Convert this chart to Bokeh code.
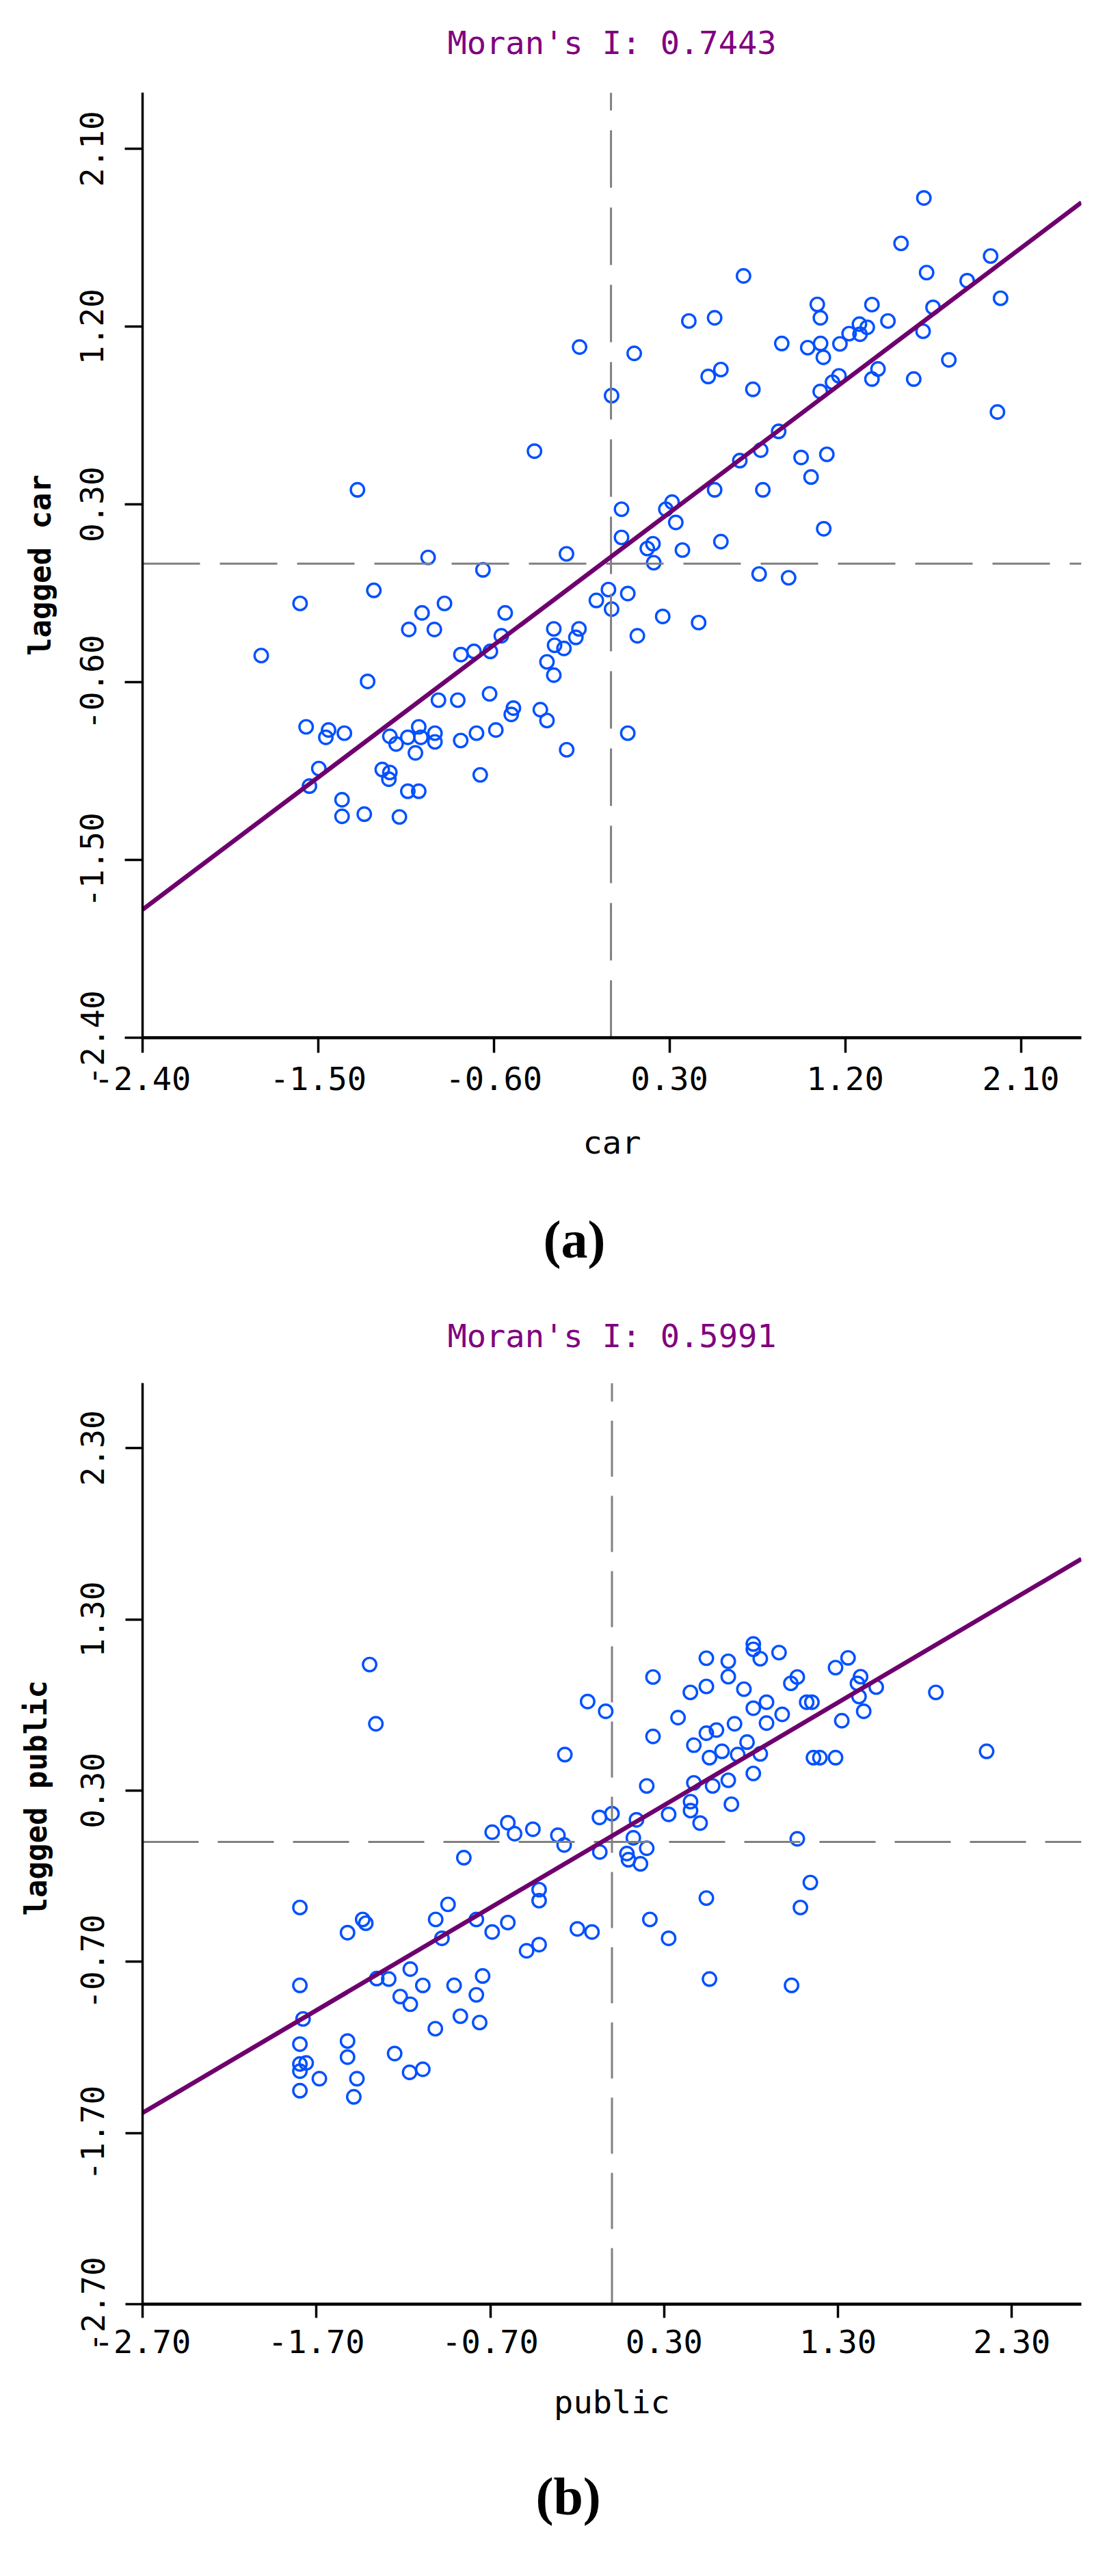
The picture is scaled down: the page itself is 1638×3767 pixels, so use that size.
from bokeh.plotting import figure
from bokeh.models import (FixedTicker, Range1d, Title, ColumnDataSource,
                          NumeralTickFormatter, LinearAxis)
from bokeh.layouts import column
from bokeh.embed import file_html
from bokeh.resources import INLINE

MONO = "DejaVu Sans Mono"

# ---------------- (a) car ----------------
car = [
    -0.161, -0.392, -1.299,
    1.603, 1.486, 1.945, 1.617, 1.825, 1.996, 0.679, 1.057, 1.073, 1.337, 1.419, 1.650,
    0.399, 0.531, 0.119, 1.273, 1.313, 1.220, 1.276, 1.599, 0.875, 1.008, 1.074, 1.173,
    1.088, 1.731, 0.563, 0.498, 1.368, 1.337, 1.168, 1.135, 1.551, 0.727, 1.072, 0.003,
    1.980, 0.859, 0.767, 0.660, 0.974, 1.106, 1.025, 0.531, 0.778, 0.313, 0.281, 0.054,
    0.332, 1.090, 0.054, 0.563, 0.215, 0.366, 0.186,
    0.219, 0.759, 0.910, -0.013, 0.086, -0.075, 0.003, 0.265, 0.449, 0.135, 0.086,
    -0.937, -0.656, -0.228, -1.215, -1.593, -0.853, -0.968, -0.542, -1.036, -0.905,
    -0.293, -0.289, -0.241, -0.164, -0.180, -0.562, -0.618, -0.769, -0.702, -1.792,
    -0.328, -0.293, -1.247, -0.884, -0.785, -0.622, -0.500, -0.511, -0.362, -0.328,
    -1.562, -1.447, -1.461, -1.366, -1.133, -1.101, -1.041, -0.985, -0.974, -0.902,
    -0.902, -1.002, -0.770, -0.689, -0.590, -0.227, -1.497, -1.545, -1.172, -1.133,
    -1.138, -0.670, -1.041, -0.985, -1.378, -1.378, -1.264, -1.084,
]
lagged_car = [
    1.097, 0.570, 0.374,
    1.852, 1.622, 1.558, 1.474, 1.433, 1.344, 1.457, 1.313, 1.245, 1.312, 1.229, 1.298,
    1.229, 1.245, 1.065, 1.213, 1.197, 1.165, 1.162, 1.177, 1.115, 1.094, 1.115, 1.113,
    1.045, 1.032, 0.983, 0.948, 0.986, 0.935, 0.951, 0.919, 0.935, 0.883, 0.872, 0.851,
    0.768, 0.670, 0.575, 0.522, 0.538, 0.554, 0.439, 0.374, 0.374, 0.312, 0.276, 0.276,
    0.209, 0.177, 0.133, 0.112, 0.101, 0.069, 0.077,
    0.005, -0.052, -0.071, -0.131, -0.151, -0.186, -0.230, -0.267, -0.298, -0.365, -0.858,
    0.032, -0.031, 0.050, -0.135, -0.201, -0.201, -0.249, -0.249, -0.333, -0.333,
    -0.330, -0.413, -0.429, -0.330, -0.373, -0.365, -0.444, -0.460, -0.444, -0.465,
    -0.497, -0.564, -0.596, -0.691, -0.691, -0.659, -0.731, -0.763, -0.739, -0.794,
    -0.826, -0.842, -0.879, -0.858, -0.874, -0.913, -0.879, -0.826, -0.879, -0.858,
    -0.902, -0.958, -0.895, -0.858, -0.842, -0.942, -1.037, -1.126, -1.042, -1.057,
    -1.091, -1.069, -1.152, -1.152, -1.195, -1.279, -1.268, -1.282,
]
moran_a = 0.7443
intercept_a = 0.035
ticks_a = [-2.40, -1.50, -0.60, 0.30, 1.20, 2.10]
tick_labels_a = ["-2.40", "-1.50", "-0.60", "0.30", "1.20", "2.10"]
xrange_a = (-2.40, 2.41)
yrange_a = (-2.40, 2.385)

# ---------------- (b) public ----------------
public = [
    -1.394, -1.358, -0.140, -0.271, -0.689, -0.599, -0.560, -0.455, -0.311, -0.275,
    -0.852, -1.795, -0.943, -1.014, -1.434, -1.416, -1.521, -0.780, -0.689, -0.599,
    -0.419, -0.419, -0.199, -0.115, -0.978, -0.419, -0.491, -1.160, -1.353, -1.284,
    -1.795, -1.088, -0.908, -0.744, -0.780, -1.218, -1.160, -1.777, -0.872, -0.761,
    -1.016, -1.795, -1.521, -1.521, -1.795, -1.759, -1.795, -1.250, -1.683, -1.467,
    -1.164, -1.088, -1.795, -1.485,
    0.813, 0.813, 0.853, 0.961, 0.543, 0.669, 0.669, 0.236, 0.451, 0.543, 0.759,
    1.358, 1.286, 1.066, 1.029, 1.430, 1.412, 1.520, 1.863, -0.036, 0.380, 0.813,
    0.889, 0.979, 0.889, 0.705, 1.150, 1.120, 1.322, 1.448, 1.421, 0.236, 0.543,
    0.601, 0.471, 0.561, 0.633, 0.777, 0.853, 0.723, 1.159, 1.196, 1.286, 2.155,
    0.813, 0.669, 0.471, 0.579, 0.200, 0.687, 0.452, 0.452, 0.507, 0.326, 0.000,
    -0.072, 0.141, 0.123, 1.066, -0.070, 0.086, 0.200, 0.095, 0.164, 1.141, 0.543,
    1.084, 0.218, 0.326, 0.561, 1.033,
]
lagged_public = [
    1.036, 0.690, 0.820, 0.510, 0.057, 0.112, 0.048, 0.074, 0.039, -0.018,
    -0.092, -0.383, -0.365, -0.453, -0.453, -0.475, -0.530, -0.453, -0.526, -0.471,
    -0.279, -0.343, -0.508, -0.526, -0.563, -0.600, -0.636, -0.743, -0.798, -0.801,
    -0.838, -0.838, -0.838, -0.783, -0.893, -0.903, -0.948, -1.034, -1.018, -1.055,
    -1.091, -1.181, -1.163, -1.257, -1.297, -1.291, -1.339, -1.236, -1.383, -1.383,
    -1.346, -1.328, -1.453, -1.489,
    1.156, 1.125, 1.070, 1.106, 1.073, 1.055, 0.965, 0.963, 0.873, 0.908, 0.892,
    1.075, 1.018, 0.963, 0.926, 0.965, 0.926, 0.904, 0.873, 0.763, 0.726, 0.781,
    0.816, 0.745, 0.694, 0.690, 0.816, 0.816, 0.708, 0.763, 0.849, 0.616, 0.635,
    0.653, 0.565, 0.492, 0.529, 0.583, 0.514, 0.510, 0.492, 0.492, 0.492, 0.529,
    0.400, 0.360, 0.345, 0.327, 0.327, 0.220, 0.235, 0.183, 0.110, 0.161, 0.165,
    0.143, 0.129, 0.024, 0.018, -0.059, -0.068, -0.037, -0.104, -0.128, -0.237, -0.328,
    -0.383, -0.453, -0.563, -0.801, -0.838,
]
moran_b = 0.5991
intercept_b = 0.035
ticks_b = [-2.70, -1.70, -0.70, 0.30, 1.30, 2.30]
tick_labels_b = ["-2.70", "-1.70", "-0.70", "0.30", "1.30", "2.30"]
xrange_b = (-2.70, 2.70)
yrange_b = (-2.70, 2.68)

POINT_COLOR = "#0050FF"
LINE_COLOR = "#6E006E"
TITLE_COLOR = "#800080"
DASH_COLOR = "#808080"


def spacer_axis(gap, at):
    # invisible (white) axis used only to reserve space between panels
    return LinearAxis(ticker=FixedTicker(ticks=[at]), axis_line_color=None,
                      major_tick_line_color="white", major_tick_line_width=1,
                      minor_tick_line_color=None,
                      major_tick_out=gap, major_tick_in=0, minor_tick_out=0,
                      major_label_standoff=0, major_label_text_color=None,
                      major_label_text_font_size="1px", axis_label=None)


def make_panel(xs, ys, slope, intercept, xr, yr, ticks, tick_labels, xlabel, ylabel,
               title, tag, height, borders, cfg):
    bl, br, bt, bb = borders
    p = figure(width=1622, height=height, x_range=Range1d(*xr), y_range=Range1d(*yr),
               output_backend="svg", toolbar_location=None, title=None,
               min_border_left=bl, min_border_right=br, min_border_top=bt,
               min_border_bottom=bb)
    p.grid.visible = False
    p.outline_line_color = None
    p.background_fill_color = "white"
    p.border_fill_color = "white"
    xa = p.below[0]
    ya = p.left[0]

    src = ColumnDataSource(data=dict(x=xs, y=ys))
    p.scatter("x", "y", source=src, marker="circle", size=19.5, line_width=3.4,
              line_color=POINT_COLOR, fill_color=None)
    # mean lines
    p.line([xr[0], xr[1]], [0, 0], line_color=DASH_COLOR, line_width=3,
           line_dash=cfg["dash"])
    p.line([0, 0], [yr[0], yr[1]], line_color=DASH_COLOR, line_width=3,
           line_dash=cfg["dash"])
    # regression line
    p.line([xr[0], xr[1]], [slope * xr[0] + intercept, slope * xr[1] + intercept],
           line_color=LINE_COLOR, line_width=6.5)

    xa.ticker = FixedTicker(ticks=ticks)
    xa.formatter = NumeralTickFormatter(format="0.00")
    xa.major_label_overrides = dict(zip(ticks, tick_labels))
    xa.axis_line_width = 4.5
    xa.axis_line_color = "black"
    xa.major_tick_line_width = 3.5
    xa.major_tick_out = cfg["xtick"]
    xa.major_tick_in = 0
    xa.minor_tick_line_color = None
    xa.major_label_text_font = MONO
    xa.major_label_text_font_size = "47px"
    xa.major_label_text_color = "black"
    xa.major_label_standoff = cfg["xlab_standoff"]
    xa.axis_label = xlabel
    xa.axis_label_text_font = MONO
    xa.axis_label_text_font_size = "47px"
    xa.axis_label_text_font_style = "normal"
    xa.axis_label_text_color = "black"
    xa.axis_label_standoff = cfg["xlabel_standoff"]

    ya.ticker = FixedTicker(ticks=ticks)
    ya.formatter = NumeralTickFormatter(format="0.00")
    ya.major_label_overrides = dict(zip(ticks, tick_labels))
    ya.major_label_orientation = "parallel"
    ya.axis_line_width = 3.5
    ya.axis_line_color = "black"
    ya.major_tick_line_width = 3.5
    ya.major_tick_out = cfg["ytick"]
    ya.major_tick_in = 0
    ya.minor_tick_line_color = None
    ya.major_label_text_font = MONO
    ya.major_label_text_font_size = "46px"
    ya.major_label_text_color = "black"
    ya.major_label_standoff = cfg["ylab_standoff"]

    # title (above), pushed away from the frame by an invisible spacer axis
    p.add_layout(spacer_axis(cfg["top_gap"], xr[0]), "above")
    p.add_layout(Title(text=title, align="center", text_font=MONO,
                       text_font_size="47px", text_color=TITLE_COLOR,
                       text_font_style="normal", standoff=4), "above")

    if cfg["ylabel_as_title"]:
        # label placed a little above the centre, as in the original
        p.add_layout(spacer_axis(cfg["ylabel_gap"], yr[0]), "left")
        p.add_layout(Title(text=ylabel, align="left", text_font=MONO,
                           text_font_size="44px", text_font_style="bold",
                           text_color="black", standoff=4,
                           offset=cfg["ylabel_offset"]), "left")
    else:
        ya.axis_label = ylabel
        ya.axis_label_text_font = MONO
        ya.axis_label_text_font_size = "44px"
        ya.axis_label_text_font_style = "bold"
        ya.axis_label_text_color = "black"
        ya.axis_label_standoff = cfg["ylabel_standoff"]

    # panel tag below
    p.add_layout(spacer_axis(cfg["tag_gap"], xr[0]), "below")
    p.add_layout(Title(text=tag, align="left", text_font="Liberation Serif",
                       text_font_size="78px", text_color="black",
                       text_font_style="bold", standoff=4,
                       offset=cfg["tag_offset"]), "below")
    return p


pa = make_panel(car, lagged_car, moran_a, intercept_a, xrange_a, yrange_a,
                ticks_a, tick_labels_a, "car", "lagged car",
                "Moran's I: 0.7443", "(a)", 1887, (194, 41, 135, 370),
                dict(dash="84 29", top_gap=44, xtick=22, ytick=26,
                     xlab_standoff=20, xlabel_standoff=46,
                     ylab_standoff=31, ylabel_as_title=False, ylabel_standoff=31,
                     tag_gap=64, tag_offset=586))
pb = make_panel(public, lagged_public, moran_b, intercept_b, xrange_b, yrange_b,
                ticks_b, tick_labels_b, "public", "lagged public",
                "Moran's I: 0.5991", "(b)", 1864, (208, 39, 135, 382),
                dict(dash="82 28", top_gap=40, xtick=20, ytick=25,
                     xlab_standoff=17, xlabel_standoff=41,
                     ylab_standoff=31, ylabel_as_title=True, ylabel_gap=36,
                     ylabel_offset=568,
                     tag_gap=60, tag_offset=575))

layout = column(pa, pb, spacing=0)
open("out.html", "w").write(file_html(layout, INLINE))
